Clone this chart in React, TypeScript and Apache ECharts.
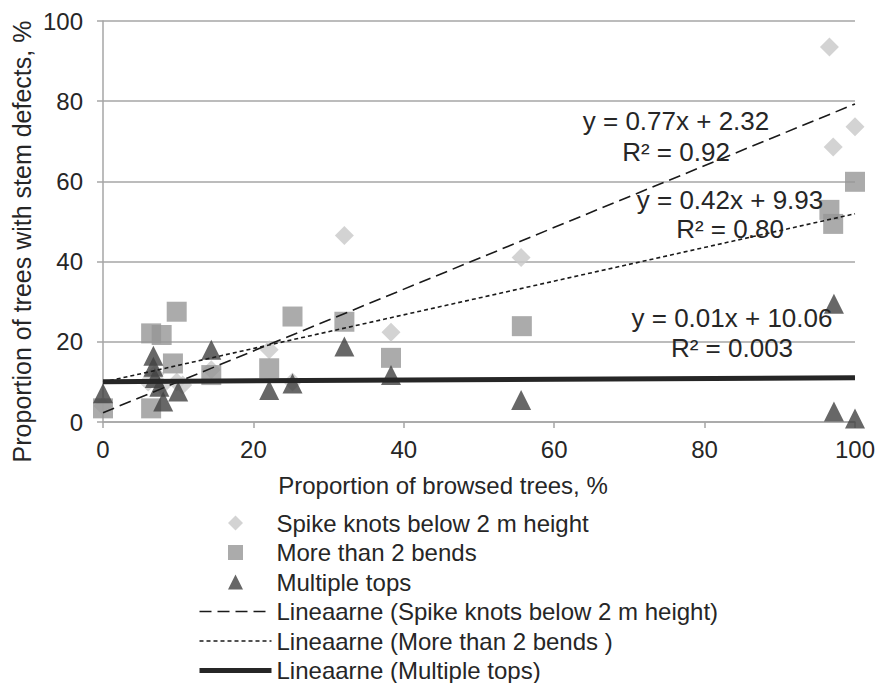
import React, { useEffect, useRef } from "react";
import * as echarts from "echarts";

const spikeKnots: [number, number][] = [
  [0, 4], [6.0, 10], [6.9, 12], [7.8, 9], [9.8, 10], [10.6, 9.2], [14.4, 13],
  [22.1, 18], [25.2, 10], [32.1, 46.5], [38.3, 22.4], [55.6, 41.0],
  [96.6, 93.5], [97.1, 68.6], [100, 73.6],
];
const moreThan2Bends: [number, number][] = [
  [0, 3.4], [6.4, 22.1], [6.4, 3.4], [7.8, 21.7], [9.3, 14.6], [9.8, 27.5],
  [14.4, 11.7], [22.1, 13.4], [25.2, 26.3], [32.1, 25.0], [38.3, 16.0],
  [55.7, 23.9], [96.6, 52.9], [97.1, 49.4], [100, 59.9],
];
const multipleTops: [number, number][] = [
  [0, 7.2], [6.7, 16.5], [6.7, 13.8], [6.9, 11.0], [7.5, 8.8], [8.0, 5.1],
  [10.0, 7.6], [14.4, 18.0], [22.1, 8.0], [25.2, 9.6], [32.1, 18.8],
  [38.3, 11.7], [55.6, 5.5], [97.2, 29.5], [97.2, 2.6], [100, 0.9],
];

// Trend line coefficients [slope, intercept]
const trendSpike = [0.77, 2.32];
const trendBends = [0.42, 9.93];
const trendTops = [0.01, 10.06];
const trendX = [0, 100];

const seriesNames = [
  "Spike knots below 2 m height",
  "More than 2 bends",
  "Multiple tops",
  "Lineaarne (Spike knots below 2 m height)",
  "Lineaarne (More than 2 bends )",
  "Lineaarne (Multiple tops)",
];
const xTicks = { min: 0, max: 100, interval: 20 };
const yTicks = { min: 0, max: 100, interval: 20 };

const FONT = "'Liberation Sans', Arial, sans-serif";
const TXT = "#262626";
const GRID = "#a6a6a6";

const ICON_DIAMOND = "path://M1 0 L2 1 L1 2 L0 1 Z";
const ICON_SQUARE = "path://M0 0 L2 0 L2 2 L0 2 Z";
const ICON_TRIANGLE = "path://M1 0 L2 2 L0 2 Z";

function line(coef: number[]): [number, number][] {
  return trendX.map((x) => [x, +(coef[0] * x + coef[1]).toFixed(3)] as [number, number]);
}

export default function App() {
  const ref = useRef<HTMLDivElement>(null);
  useEffect(() => {
    document.body.style.margin = "0";
    if (!ref.current) return;
    const chart = echarts.init(ref.current, null, { renderer: "svg" });
    const textStyle = (size: number) => ({ fontFamily: FONT, fontSize: size, fill: TXT });
    const centered = { textAlign: "center", textVerticalAlign: "middle", align: "center", verticalAlign: "middle" };
    chart.setOption({
      animation: false,
      backgroundColor: "#ffffff",
      textStyle: { fontFamily: FONT, color: TXT },
      grid: { left: 103, right: 20, top: 21, bottom: 261, containLabel: false },
      xAxis: {
        type: "value",
        ...xTicks,
        axisLine: { show: true, lineStyle: { color: GRID, width: 1.5 } },
        axisTick: { show: true, length: 6, lineStyle: { color: GRID, width: 1.5 } },
        axisLabel: { fontSize: 24, color: TXT, margin: 15, fontFamily: FONT },
        splitLine: { show: false },
      },
      yAxis: {
        type: "value",
        ...yTicks,
        axisLine: { show: true, lineStyle: { color: GRID, width: 1.5 } },
        axisTick: { show: true, length: 6, lineStyle: { color: GRID, width: 1.5 } },
        axisLabel: { fontSize: 24, color: TXT, margin: 20, fontFamily: FONT },
        splitLine: { show: true, lineStyle: { color: GRID, width: 1.5 } },
      },
      legend: {
        orient: "vertical",
        left: 192,
        top: 506,
        height: 220,
        itemWidth: 72,
        itemHeight: 15,
        itemGap: 5.5,
        symbolKeepAspect: true,
        textStyle: { fontSize: 24, color: TXT, fontFamily: FONT, lineHeight: 24 },
        data: [
          { name: seriesNames[0], icon: ICON_DIAMOND },
          { name: seriesNames[1], icon: ICON_SQUARE },
          { name: seriesNames[2], icon: ICON_TRIANGLE },
          { name: seriesNames[3], itemStyle: { opacity: 0 }, lineStyle: { width: 1.6, type: [12, 6] } },
          { name: seriesNames[4], itemStyle: { opacity: 0 }, lineStyle: { width: 1.6, type: [4, 3] } },
          { name: seriesNames[5], itemStyle: { opacity: 0 }, lineStyle: { width: 5 } },
        ],
      },
      graphic: [
        {
          type: "text", x: 22, y: 241.5, rotation: Math.PI / 2,
          style: { ...textStyle(25), text: "Proportion of trees with stem defects, %", ...centered },
        },
        {
          type: "text", x: 443, y: 485,
          style: { ...textStyle(24), text: "Proportion of browsed trees, %", ...centered },
        },
        {
          type: "text", x: 676, y: 136, z: 100,
          style: { ...textStyle(26), lineHeight: 31, text: "y = 0.77x + 2.32\nR² = 0.92", ...centered },
        },
        {
          type: "text", x: 730, y: 214, z: 100,
          style: { ...textStyle(26), lineHeight: 29, text: "y = 0.42x + 9.93\nR² = 0.80", ...centered },
        },
        {
          type: "text", x: 732, y: 333, z: 100,
          style: { ...textStyle(26), lineHeight: 30, text: "y = 0.01x + 10.06\nR² = 0.003", ...centered },
        },
      ],
      series: [
        {
          name: seriesNames[0], type: "scatter", symbol: "diamond", symbolSize: 19,
          symbolKeepAspect: true,
          itemStyle: { color: "#c8c8c8" }, data: spikeKnots, z: 2,
        },
        {
          name: seriesNames[1], type: "scatter", symbol: "rect", symbolSize: 20,
          symbolKeepAspect: true,
          itemStyle: { color: "#969696" }, data: moreThan2Bends, z: 3,
        },
        {
          name: seriesNames[2], type: "scatter", symbol: "triangle", symbolSize: 20,
          symbolKeepAspect: true,
          itemStyle: { color: "#414141" }, data: multipleTops, z: 4,
        },
        {
          name: seriesNames[3], type: "line", symbol: "none", data: line(trendSpike), z: 5,
          itemStyle: { color: "#1a1a1a" },
          lineStyle: { color: "#1a1a1a", width: 1.6, type: [12, 6] },
        },
        {
          name: seriesNames[4], type: "line", symbol: "none", data: line(trendBends), z: 5,
          itemStyle: { color: "#1a1a1a" },
          lineStyle: { color: "#1a1a1a", width: 1.6, type: [4, 3] },
        },
        {
          name: seriesNames[5], type: "line", symbol: "none", data: line(trendTops), z: 5,
          itemStyle: { color: "#262626" },
          lineStyle: { color: "#262626", width: 5 },
        },
      ],
    });
    return () => chart.dispose();
  }, []);
  return <div ref={ref} style={{ width: 878, height: 683 }} />;
}
